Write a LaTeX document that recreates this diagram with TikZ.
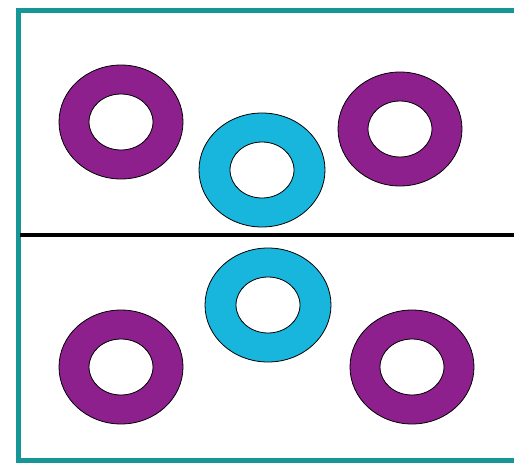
\documentclass[tikz,border=0pt]{standalone}
\usepackage{tikz}
\definecolor{framecol}{RGB}{22,150,150}
\definecolor{ringpurple}{RGB}{142,32,142}
\definecolor{ringcyan}{RGB}{24,182,220}
\tikzset{
  % The 'frame' style is the teal border round the box
  frame/.style={draw=framecol, line width=5pt},
  % The 'divider' style is the thick black line across the middle
  divider/.style={draw=black, line width=4pt},
  % The 'ring' style is a thin black outline, filled with a hole
  ring/.style={draw=black, line width=0.8pt, even odd rule},
  purplering/.style={ring, fill=ringpurple},
  cyanring/.style={ring, fill=ringcyan}
}
\begin{document}
\begin{tikzpicture}[x=1pt, y=-1pt]

  % Fix the picture size
  \useasboundingbox[fill=white] (0,0) rectangle (514,466);

  % Draw the box and the line across it
  \draw[frame] (18,10) rectangle (530,460);
  \draw[divider] (20,235) -- (514,235);

  % Purple rings in the four corners
  \foreach \cx/\cy in {121/122, 400/129, 121/367, 412/367}
    \path[purplering] (\cx,\cy) ellipse (62 and 57) (\cx,\cy) ellipse (32 and 28);

  % Cyan rings on both sides of the line
  \foreach \cx/\cy in {262/170, 268/305}
    \path[cyanring] (\cx,\cy) ellipse (63 and 57) (\cx,\cy) ellipse (32 and 28);

\end{tikzpicture}
\end{document}
